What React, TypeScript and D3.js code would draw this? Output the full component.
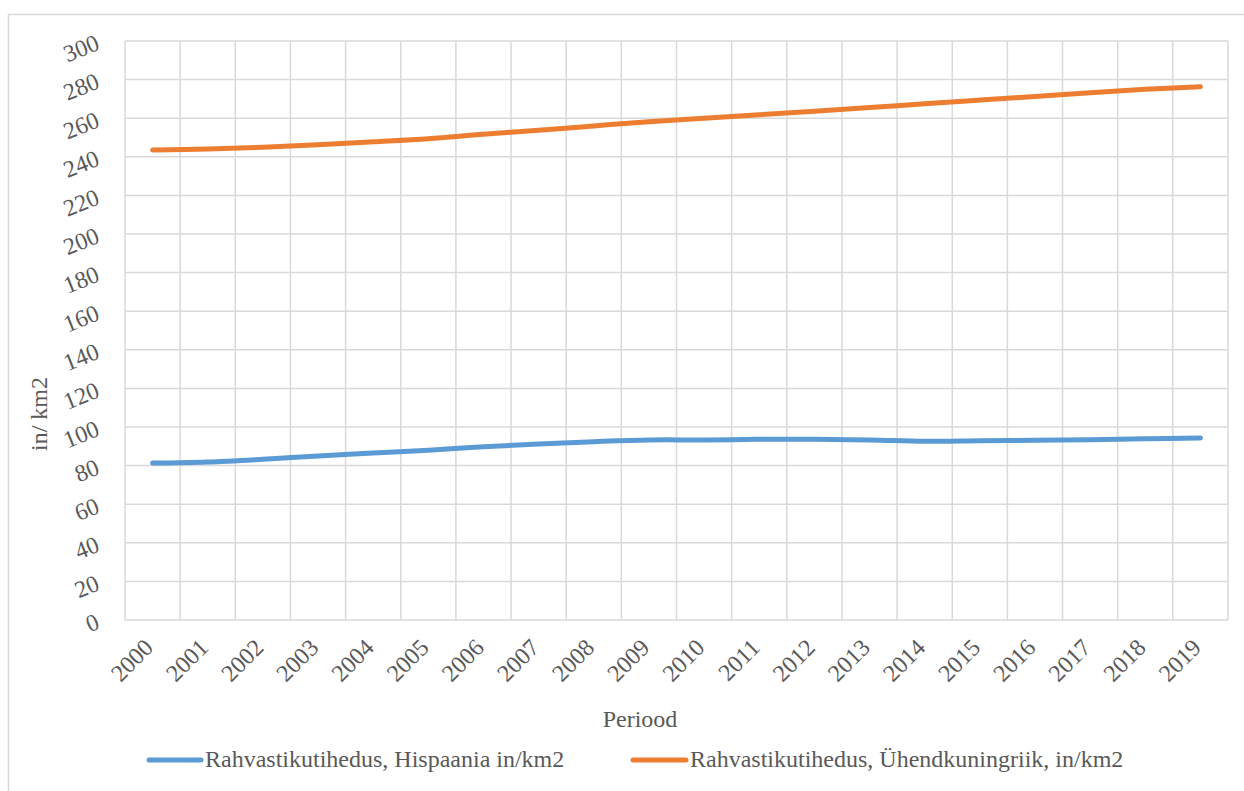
import React from "react";
import * as d3 from "d3";

const years = ["2000","2001","2002","2003","2004","2005","2006","2007","2008","2009","2010","2011","2012","2013","2014","2015","2016","2017","2018","2019"];
const spain = [81.3,81.9,83.3,85.0,86.5,88.0,89.8,91.2,92.4,93.3,93.3,93.6,93.6,93.3,92.6,92.9,93.1,93.4,93.9,94.3];
const uk = [243.5,244.0,244.9,246.3,247.8,249.4,251.7,253.7,256.0,258.2,260.0,261.8,263.6,265.5,267.5,269.4,271.3,273.2,275.0,276.3];
const yTicks = [0,20,40,60,80,100,120,140,160,180,200,220,240,260,280,300];
const seriesNames = ["Rahvastikutihedus, Hispaania in/km2", "Rahvastikutihedus, Ühendkuningriik, in/km2"];
const seriesColors = ["#5b9bd5", "#ed7d31"];

const W = 1244, H = 791;
const left = 125, right = 1228, top = 41, bottom = 620;
const font = "Liberation Serif, DejaVu Serif, Times New Roman, serif";
const textColor = "#595959";
const gridColor = "#d9d9d9";

export default function App() {
  const x = d3.scaleBand<string>().domain(years).range([left, right]);
  const y = d3.scaleLinear().domain([0, 300]).range([bottom, top]);
  const cx = (yr: string) => (x(yr) as number) + x.bandwidth() / 2;
  const line = d3.line<number>().x((_, i) => cx(years[i])).y((v) => y(v)).curve(d3.curveCatmullRom.alpha(0.5));
  const series = [spain, uk];
  const boundaries = years.map((yr) => x(yr) as number).concat([right]);

  return (
    <svg width={W} height={H} style={{ position: "absolute", left: 0, top: 0, background: "#fff", fontFamily: font }}>
      <rect x={8.5} y={14.5} width={1260} height={800} fill="#fff" stroke={gridColor} strokeWidth={1.5} />
      {yTicks.map((t) => (
        <line key={"h" + t} x1={left} x2={right} y1={y(t)} y2={y(t)} stroke={gridColor} strokeWidth={1.5} />
      ))}
      {boundaries.map((b, i) => (
        <line key={"v" + i} x1={b} x2={b} y1={top} y2={bottom} stroke={gridColor} strokeWidth={1.5} />
      ))}
      {yTicks.map((t) => (
        <text key={"yl" + t} x={101} y={y(t) + 8} textAnchor="end" fontSize={24} fill={textColor}
          transform={`rotate(-22, 101, ${y(t) + 8})`}>{t}</text>
      ))}
      {years.map((yr) => (
        <text key={"xl" + yr} x={cx(yr) + 2} y={649} textAnchor="end" fontSize={24} fill={textColor}
          transform={`rotate(-45, ${cx(yr) + 2}, 649)`}>{yr}</text>
      ))}
      <text x={0} y={0} transform={`translate(47, 414) rotate(-90)`} textAnchor="middle" fontSize={24} fill={textColor}>in/ km2</text>
      <text x={640} y={727} textAnchor="middle" fontSize={24} fill={textColor}>Periood</text>
      {series.map((s, i) => (
        <path key={"s" + i} d={line(s) || ""} fill="none" stroke={seriesColors[i]} strokeWidth={5} strokeLinecap="round" strokeLinejoin="round" />
      ))}
      {[{ x1: 149, x2: 201, tx: 205 }, { x1: 633, x2: 686, tx: 690 }].map((l, i) => (
        <g key={"lg" + i}>
          <line x1={l.x1} x2={l.x2} y1={760} y2={760} stroke={seriesColors[i]} strokeWidth={5} strokeLinecap="round" />
          <text x={l.tx} y={767} fontSize={24} fill={textColor}>{seriesNames[i]}</text>
        </g>
      ))}
    </svg>
  );
}
